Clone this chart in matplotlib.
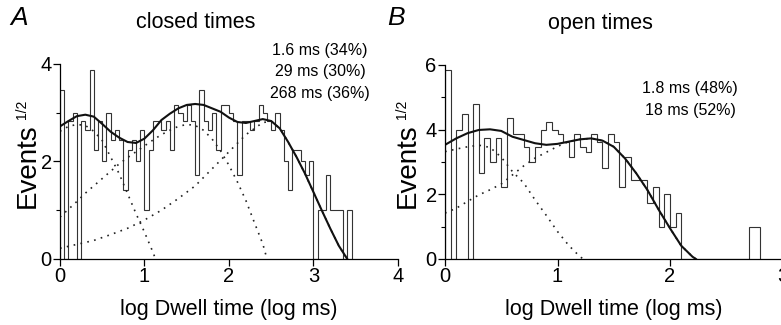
import numpy as np
import matplotlib
matplotlib.use("Agg")
import matplotlib.pyplot as plt
from matplotlib.ticker import MultipleLocator

plt.rcParams['font.family'] = ['Liberation Sans', 'DejaVu Sans']

# closed times: counts per 0.05 log-unit bin, starting at 0
bin_w = 0.05
closed_counts = [12, 0, 8, 9, 0, 8, 7, 15, 5, 8, 4, 9, 6, 7, 6, 2, 5, 6, 4, 7,
                 1, 5, 8, 8, 7, 8, 5, 10, 9, 8, 10, 8, 3, 12, 8, 7, 9, 5, 10, 10,
                 9, 8, 3, 8, 8, 7, 8, 10, 9, 8, 7, 9, 7, 4, 2, 5, 5, 4, 3, 4,
                 0, 1, 1, 3, 1, 1, 1, 0, 1]
# open times
open_counts = [34, 0, 16, 20, 0, 23, 7, 14, 9, 14, 5, 19, 15, 15, 12, 9, 12, 16, 18, 16,
               15, 13, 10, 15, 12, 11, 15, 13, 8, 15, 13, 5, 10, 6, 6, 6, 3, 5, 1, 4,
               1, 2, 0, 0, 0, 0, 0, 0, 0, 0, 0, 0, 0, 0, 1, 1]

# fitted curves (sqrt scale)
a_fit_x = [0, 0.1, 0.2, 0.3, 0.4, 0.5, 0.6, 0.7, 0.8, 0.9, 1.0, 1.1, 1.2, 1.3, 1.4, 1.5, 1.6, 1.7,
           1.8, 1.9, 2.0, 2.1, 2.2, 2.3, 2.4, 2.5, 2.6, 2.7, 2.8, 2.9, 3.0, 3.1, 3.2, 3.3, 3.4]
a_fit = [2.72, 2.83, 2.93, 2.96, 2.92, 2.77, 2.61, 2.49, 2.40, 2.38, 2.47, 2.64, 2.85, 2.98, 3.09,
         3.16, 3.18, 3.16, 3.09, 3.02, 2.90, 2.81, 2.79, 2.83, 2.87, 2.83, 2.68, 2.40, 2.09, 1.75,
         1.37, 0.99, 0.62, 0.27, 0.0]
a_c1_x = [0, 0.1, 0.2, 0.3, 0.4, 0.5, 0.6, 0.7, 0.8, 0.9, 1.0, 1.1, 1.13]
a_c1 = [2.62, 2.72, 2.76, 2.74, 2.62, 2.43, 2.09, 1.75, 1.34, 0.93, 0.55, 0.14, 0.0]
a_c2_x = [0, 0.1, 0.2, 0.3, 0.4, 0.5, 0.6, 0.7, 0.8, 0.9, 1.0, 1.1, 1.2, 1.3, 1.4, 1.5, 1.6,
          1.7, 1.8, 1.9, 2.0, 2.1, 2.2, 2.3, 2.4, 2.45]
a_c2 = [0.86, 1.02, 1.18, 1.35, 1.5, 1.65, 1.8, 1.95, 2.08, 2.2, 2.32, 2.44, 2.55, 2.64, 2.72,
        2.76, 2.74, 2.64, 2.46, 2.22, 1.92, 1.58, 1.2, 0.75, 0.31, 0.0]
a_c3_x = [0, 0.2, 0.4, 0.6, 0.8, 1.0, 1.2, 1.4, 1.6, 1.8, 2.0, 2.2, 2.4, 2.5, 2.6, 2.7, 2.8,
          2.9, 3.0, 3.1, 3.2, 3.3, 3.4]
a_c3 = [0.22, 0.3, 0.38, 0.5, 0.63, 0.8, 1.0, 1.24, 1.5, 1.85, 2.2, 2.55, 2.8, 2.82, 2.68, 2.40,
        2.09, 1.75, 1.37, 0.99, 0.62, 0.27, 0.0]

b_fit_x = [0, 0.1, 0.2, 0.3, 0.4, 0.5, 0.6, 0.7, 0.8, 0.9, 1.0, 1.1, 1.2, 1.3, 1.4, 1.5, 1.6,
           1.7, 1.8, 1.9, 2.0, 2.1, 2.2, 2.23]
b_fit = [3.53, 3.73, 3.89, 3.99, 4.01, 3.96, 3.78, 3.68, 3.58, 3.53, 3.56, 3.63, 3.70, 3.73,
         3.66, 3.47, 3.11, 2.65, 2.13, 1.52, 0.95, 0.41, 0.07, 0.0]
b_c1_x = [0, 0.1, 0.2, 0.3, 0.4, 0.5, 0.6, 0.7, 0.8, 0.9, 1.0, 1.1, 1.2, 1.23]
b_c1 = [3.32, 3.4, 3.47, 3.52, 3.45, 3.15, 2.7, 2.35, 1.83, 1.35, 0.85, 0.42, 0.07, 0.0]
b_c2_x = [0, 0.1, 0.2, 0.3, 0.4, 0.5, 0.6, 0.7, 0.8, 0.9, 1.0, 1.1, 1.2, 1.3, 1.4, 1.5, 1.6,
          1.7, 1.8, 1.9, 2.0, 2.1, 2.2, 2.23]
b_c2 = [1.42, 1.57, 1.78, 1.98, 2.14, 2.32, 2.6, 2.88, 3.12, 3.3, 3.48, 3.63, 3.70, 3.73,
        3.66, 3.47, 3.11, 2.65, 2.13, 1.52, 0.95, 0.41, 0.07, 0.0]

closed_labels = ["1.6 ms (34%)", "29 ms (30%)", "268 ms (36%)"]
open_labels = ["1.8 ms (48%)", "18 ms (52%)"]

fig = plt.figure(figsize=(7.81, 3.25), dpi=100)
axA = fig.add_axes([0.0768, 0.2031, 0.4328, 0.600])
axB = fig.add_axes([0.5698, 0.2031, 0.4321, 0.597])


def draw(ax, counts, fit_x, fit, comps, xmax, ymax):
    edges = np.arange(len(counts) + 1) * bin_w
    ax.stairs(np.sqrt(counts), edges, color='#333333', lw=0.8)
    for cx, cy in comps:
        ax.plot(cx, cy, color='#222222', lw=1.2, ls=(0, (1, 3.2)))
    ax.plot(fit_x, fit, color='#111111', lw=1.5)
    ax.set_xlim(0, xmax)
    ax.set_ylim(0, ymax)
    for s in ['top', 'right']:
        ax.spines[s].set_visible(False)
    for s in ['left', 'bottom']:
        ax.spines[s].set_linewidth(0.9)
    ax.xaxis.set_major_locator(MultipleLocator(1))
    ax.yaxis.set_major_locator(MultipleLocator(2))
    ax.yaxis.set_minor_locator(MultipleLocator(1))
    ax.tick_params(which='major', length=5, width=0.9, labelsize=14.5, pad=1)
    ax.tick_params(which='minor', length=3, width=0.8)
    ax.set_xlabel('log Dwell time (log ms)', fontsize=15.5, labelpad=9)


draw(axA, closed_counts, a_fit_x, a_fit, [(a_c1_x, a_c1), (a_c2_x, a_c2), (a_c3_x, a_c3)], 4, 4)
draw(axB, open_counts, b_fit_x, b_fit, [(b_c1_x, b_c1), (b_c2_x, b_c2)], 3, 6)

# y labels with a small superscript
for xl, xs in [(28, 22), (408, 402)]:
    fig.text(xl / 781, 1 - 166 / 325, 'Events', fontsize=20, rotation=90, ha='center', va='center')
    fig.text(xs / 781, 1 - 109 / 325, '1/2', fontsize=10, rotation=90, ha='center', va='center')

for i, t in enumerate(closed_labels):
    fig.text(320 / 781, 1 - (50 + 21.5 * i) / 325, t, fontsize=11.5, ha='center', va='center')
for i, t in enumerate(open_labels):
    fig.text(690 / 781, 1 - (88 + 22 * i) / 325, t, fontsize=11.5, ha='center', va='center')

fig.text(196 / 781, 1 - 23 / 325, 'closed times', fontsize=15.5, ha='center', va='center')
fig.text(600 / 781, 1 - 23 / 325, 'open times', fontsize=15.5, ha='center', va='center')
fig.text(19 / 781, 1 - 18 / 325, 'A', fontsize=19, style='italic', ha='center', va='center')
fig.text(396 / 781, 1 - 18 / 325, 'B', fontsize=19, style='italic', ha='center', va='center')

fig.savefig('out.png', dpi=100)
